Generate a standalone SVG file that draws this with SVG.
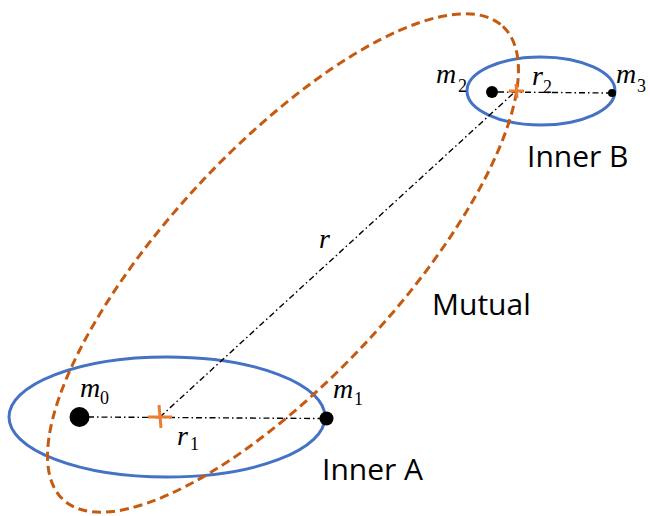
<svg xmlns="http://www.w3.org/2000/svg" width="650" height="516" viewBox="0 0 650 516">
<style>
.inner{fill:none;stroke:#4472C4;stroke-width:3}
.mutual{fill:none;stroke:#C55A11;stroke-width:3;stroke-dasharray:9 5}
.dd{stroke:#000;stroke-width:1.4;fill:none;stroke-dasharray:6 3 1.5 3}
.cross{stroke:#ED7D31;stroke-width:3;stroke-linecap:butt}
.mass{fill:#000}
.math{font-family:"Liberation Serif",serif;font-style:italic;font-size:28px;fill:#000}
.sub{font-family:"Liberation Serif",serif;font-style:normal;font-size:18px;fill:#000}
.lbl{font-family:"Open Sans","Liberation Sans",sans-serif;font-size:30px;fill:#000}
</style>
<rect width="650" height="516" fill="#fff"/>
<g id="innerA"><ellipse class="inner" cx="167" cy="417" rx="158" ry="60"/></g>
<g id="innerB"><ellipse class="inner" cx="541" cy="91" rx="74" ry="34"/></g>
<g id="mutual"><ellipse class="mutual" cx="283" cy="263" rx="323" ry="115" transform="rotate(-47.1 283 263)"/></g>
<g id="connectors">
<line class="dd" x1="88" y1="417" x2="321" y2="418.5"/>
<line class="dd" x1="498" y1="92" x2="609" y2="93"/>
<line class="dd" x1="160" y1="417" x2="517" y2="90"/>
</g>
<g id="m0"><circle class="mass" cx="79.5" cy="417" r="10"/><text class="math" x="80" y="397">m</text><text class="sub" x="100" y="404">0</text></g>
<g id="m1"><circle class="mass" cx="326.5" cy="418.5" r="7"/><text class="math" x="333" y="398">m</text><text class="sub" x="354" y="405">1</text></g>
<g id="m2"><circle class="mass" cx="492" cy="92" r="6"/><text class="math" x="436" y="83">m</text><text class="sub" x="458" y="92">2</text></g>
<g id="m3"><circle class="mass" cx="612" cy="93" r="4"/><text class="math" x="616" y="83">m</text><text class="sub" x="637" y="92">3</text></g>
<g id="r1"><line class="cross" x1="148" y1="417" x2="172" y2="417"/><line class="cross" x1="159" y1="405" x2="161" y2="428"/><text class="math" x="177" y="445">r</text><text class="sub" x="190" y="450">1</text></g>
<g id="r2"><line class="cross" x1="509" y1="91" x2="524" y2="91"/><line class="cross" x1="516" y1="84" x2="517" y2="98"/><text class="math" x="532" y="85">r</text><text class="sub" x="543" y="93">2</text></g>
<g id="r"><text class="math" x="319" y="248">r</text></g>
<g id="labels">
<text class="lbl" x="432" y="315">Mutual</text>
<text class="lbl" x="527" y="167">Inner B</text>
<text class="lbl" x="322" y="480">Inner A</text>
</g>
</svg>
